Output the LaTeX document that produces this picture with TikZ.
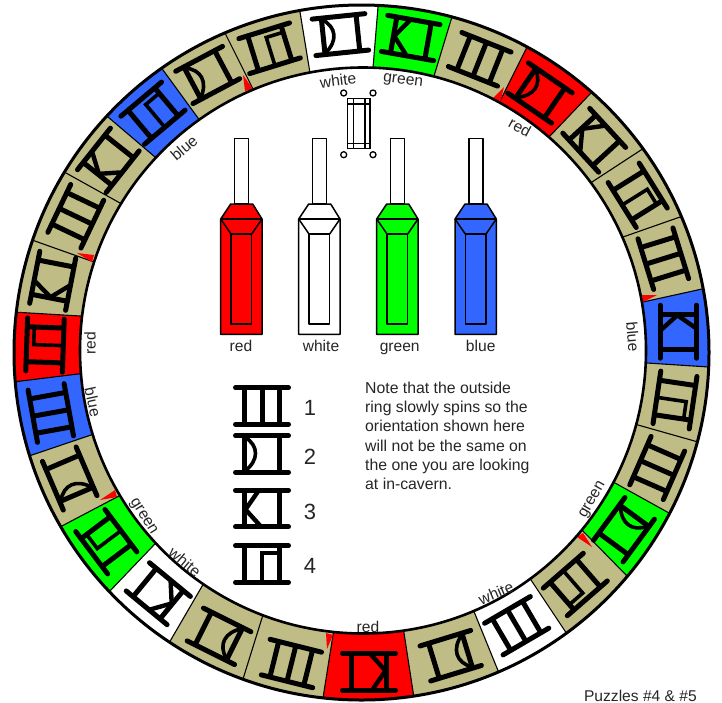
\documentclass[tikz,border=0pt]{standalone}
\usepackage{fontspec}
\setmainfont{Liberation Sans}
\usetikzlibrary{calc}
\definecolor{khaki}{RGB}{191,189,133}
\definecolor{tblue}{RGB}{51,102,255}
\definecolor{tred}{RGB}{255,0,0}
\definecolor{tgreen}{RGB}{0,255,0}
\tikzset{
  gbar/.style={line width=5pt,line cap=round},
  gthin/.style={line width=3.6pt},
  lab/.style={font=\fontsize{15.6}{18}\selectfont,inner sep=0pt,text=black!85},
  num/.style={font=\fontsize{22}{24}\selectfont,inner sep=0pt,text=black!85},
  edge/.style={line width=1.1pt,black},
  tool/.style={line width=1.5pt,black,line join=round},
}
\newcommand\glyphframe[1]{%
  \draw[gbar] (-26.5,-18.3) -- (26.5,-18.3);
  \draw[gbar] (-26.5,18.3) -- (26.5,18.3);
  \draw[gbar,line cap=butt] (-17.3,-18.3) -- (-17.3,18.3);
  \draw[gbar,line cap=butt] (17.6,-18.3) -- (17.6,18.3);
  \ifcase#1\or
    \draw[gbar,line cap=butt] (0,-18.3) -- (0,18.3);
  \or
    \draw[gthin] (-17,-17) .. controls (-3,-8) and (-3,6) .. (-17,17);
  \or
    \draw[line width=4.4pt,line join=miter] (-4,-17) -- (-16.5,1) -- (-2,17);
  \or
    \draw[gthin] (0,18.3) -- (0,-11.3) -- (17.6,-11.3);
  \fi
}
\newcommand\glyphat[4]{%
  \begin{scope}[shift={(#2,#3)},rotate=-#4]\glyphframe{#1}\end{scope}}
\newcommand\toolat[2]{%
  \begin{scope}[shift={(#1,0)}]
    \draw[tool,fill=white] (234.7,138.3) rectangle (248.7,204);
    \draw[tool,fill=#2] (230.7,204) -- (252.7,204) -- (262,219) -- (262,334.3) -- (220.7,334.3) -- (220.7,219) -- cycle;
    \draw[tool] (220.7,219) -- (262,219);
    \draw[tool] (220.7,219) -- (231,234) -- (251.7,234) -- (262,219);
    \draw[tool] (231,234) rectangle (251.7,324);
  \end{scope}}
\begin{document}
\begin{tikzpicture}[x=1pt,y=-1pt]
\useasboundingbox (0,0) rectangle (722,702);
\foreach \n/\ox/\oy/\ix/\iy in {
 0/300/12/310/73, 1/378/7/373/68, 2/451/20/434/76, 3/526/49/499/103,
 4/591/93/549/137, 5/641/150/592/182, 6/680/217/623/237, 7/702/289/643/302,
 8/709/367/647/363, 9/698/442/638/425, 10/669/513/615/483, 11/627/576/582/530,
 12/567/634/533/583, 13/499/673/475/614, 14/414/698/404/633, 15/323/698/333/635,
 16/243/679/262/618, 17/169/643/201/588, 18/108/593/152/547, 19/60/527/117/497,
 20/29/456/91/435, 21/13/382/78/374, 22/13/312/80/316, 23/32/240/94/262,
 24/66/173/120/203, 25/108/117/155/157, 26/163/70/198/118, 27/227/37/253/89}
 {\coordinate (O\n) at (\ox,\oy); \coordinate (I\n) at (\ix,\iy);}
\begin{scope}
  \clip (361.5,352.5) circle (347.5);
  \foreach \i/\j/\c in {
   0/1/white,1/2/tgreen,2/3/khaki,3/4/tred,4/5/khaki,5/6/khaki,6/7/khaki,7/8/tblue,
   8/9/khaki,9/10/khaki,10/11/tgreen,11/12/khaki,12/13/white,13/14/khaki,14/15/tred,
   15/16/khaki,16/17/khaki,17/18/white,18/19/tgreen,19/20/khaki,20/21/tblue,21/22/tred,
   22/23/khaki,23/24/khaki,24/25/khaki,25/26/tblue,26/27/khaki,27/0/khaki}
   {\fill[\c] ($(O\i)!1.15!(I\i)$) -- ($(I\i)!1.2!(O\i)$) -- ($(I\j)!1.2!(O\j)$) -- ($(O\j)!1.15!(I\j)$) -- cycle;}
  \foreach \i in {0,...,27}
   {\draw[edge] ($(O\i)!1.15!(I\i)$) -- ($(I\i)!1.2!(O\i)$);}
\end{scope}
\fill[white] (363,350.5) circle (283);
\fill[tred] (243,75) -- (245,91) -- (253,89) -- cycle;
\fill[tred] (493,98) -- (504,87) -- (500,103) -- cycle;
\fill[tred] (642,295) -- (657,295) -- (643,302) -- cycle;
\fill[tred] (577,537) -- (583,533) -- (592,547) -- cycle;
\fill[tred] (326,633) -- (333,635) -- (327,649) -- cycle;
\fill[tred] (100,500) -- (115,490) -- (117,497) -- cycle;
\fill[tred] (77,253) -- (94,255) -- (92,262) -- cycle;
\draw[line width=3pt] (361.5,352.5) circle (347.5);
\draw[line width=2.6pt] (363,350.5) circle (283);
\foreach \t/\x/\y/\a in {
 2/340.4/34.6/-5.9, 3/410.7/38/10, 1/479.7/59.3/21.7, 2/540/93/34.4,
 3/594.2/140.3/47.4, 4/637.7/195.3/58, 1/663.3/258.7/72.8, 3/678.3/331.7/90,
 4/675/400/98.4, 1/657.2/468/113.7, 2/624/529.7/126.3, 4/575.3/584.5/139,
 1/516.7/625.7/149.7, 2/450.7/655.7/163, 3/369/671.7/180, 1/291.4/663.5/194,
 2/219/636.3/206.5, 3/158.3/593.7/219.5, 4/106.3/541.7/233, 2/69.7/478.5/246.8,
 1/50.8/413/259.8, 4/45/345/272, 3/52.7/280.8/281, 1/75.8/216.3/295.5,
 3/108.3/160.3/308.4, 4/153/113.2/320, 2/207.7/75/332, 4/269.6/48.25/342.8}
 {\glyphat{\t}{\x}{\y}{\a}}
% legend glyphs
\glyphat{1}{262}{406}{0}
\glyphat{2}{262}{454}{0}
\glyphat{3}{262}{508.5}{0}
\glyphat{4}{262}{564}{0}
\node[num] (n1) at (310,408) {1};
\node[num] (n2) at (310,457) {2};
\node[num] (n3) at (310,512) {3};
\node[num] (n4) at (310,566) {4};
% tools
\toolat{0}{tred}
\toolat{78}{white}
\toolat{156}{tgreen}
\toolat{234.3}{tblue}
\node[lab,anchor=base] (l1) at (241,351) {red};
\node[lab,anchor=base] (l2) at (321,351) {white};
\node[lab,anchor=base] (l3) at (399.7,351) {green};
\node[lab,anchor=base] (l4) at (480.7,351) {blue};
% small item
\draw[line width=1.3pt] (347.7,98.3) rectangle (370,148.3);
\draw[line width=1.3pt] (353.3,98.3) -- (353.3,148.3) (365,98.3) -- (365,148.3) (347.7,104) -- (370,104) (347.7,143.3) -- (370,143.3);
\foreach \x/\y in {343.7/93,373/93,343.7/154.7,373/154.7}
  {\draw[line width=1.3pt] (\x,\y) circle (3);}
% ring labels
\node[lab,rotate=7] (r1) at (338,80.5) {white};
\node[lab,rotate=-7] (r2) at (403,81.5) {green};
\node[lab,rotate=-28] (r3) at (520,127) {red};
\node[lab,rotate=-85] (r4) at (633,337) {blue};
\node[lab,rotate=60] (r5) at (593,500) {green};
\node[lab,rotate=23] (r6) at (496,593) {white};
\node[lab] (r7) at (368,627) {red};
\node[lab,rotate=-40] (r8) at (185,562) {white};
\node[lab,rotate=-58] (r9) at (143,517) {green};
\node[lab,rotate=-78] (r10) at (93,402) {blue};
\node[lab,rotate=90] (r11) at (90,343) {red};
\node[lab,rotate=40] (r12) at (184,148) {blue};
\node[lab,align=left,anchor=north west,font=\fontsize{15.8}{19.3}\selectfont] (note) at (365,381.5)
 {Note that the outside\\ring slowly spins so the\\orientation shown here\\will not be the same on\\the one you are looking\\at in-cavern.};
\node[lab,anchor=east] (pz) at (697,695.5) {Puzzles \#4 \& \#5};
\end{tikzpicture}
\end{document}
